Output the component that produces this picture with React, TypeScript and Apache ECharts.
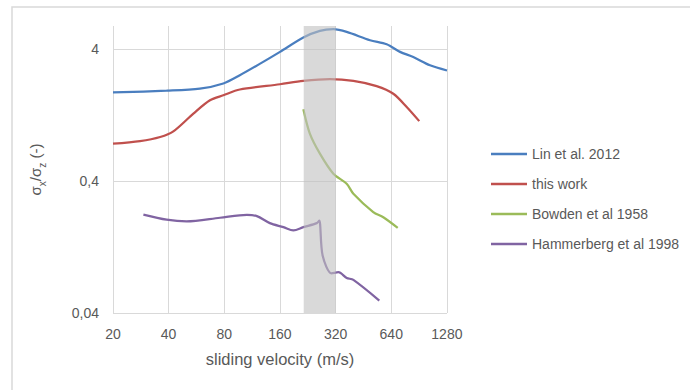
import React, { useEffect, useRef } from "react";
import * as echarts from "echarts";

// Lin et al. 2012
const linX = [20, 39, 59, 79, 97, 125, 160, 214, 263, 311, 367, 491, 604, 713, 841, 1036, 1280];
const linY = [1.88, 1.94, 2.01, 2.2, 2.54, 3.11, 3.82, 4.91, 5.51, 5.67, 5.41, 4.68, 4.36, 3.82, 3.49, 3.02, 2.76];
// this work
const workX = [20, 28, 36, 42.4, 54.4, 66.9, 79, 97, 160, 214, 298, 399, 533, 656, 775, 906];
const workY = [0.769, 0.805, 0.864, 0.953, 1.3, 1.64, 1.79, 1.98, 2.17, 2.3, 2.37, 2.3, 2.1, 1.84, 1.46, 1.14];
// Bowden et al 1958
const bowX = [214, 232, 263, 311, 367, 399, 511, 579, 693];
const bowY = [1.4, 0.916, 0.646, 0.455, 0.382, 0.321, 0.233, 0.213, 0.177];
// Hammerberg et al 1998
const hamX = [29.2, 39, 50, 75.8, 106, 120, 141, 167, 189, 214, 253, 261, 272, 304, 331, 367, 399, 551];
const hamY = [0.223, 0.204, 0.198, 0.211, 0.222, 0.217, 0.192, 0.179, 0.169, 0.179, 0.192, 0.201, 0.109, 0.08, 0.0815, 0.0738, 0.0713, 0.0497];

const seriesNames = ["Lin et al. 2012", "this work", "Bowden et al 1958", "Hammerberg et al 1998"];
const seriesColors = ["#4A7EBF", "#C0504D", "#9BBB59", "#8064A2"];
const band = [215, 320];

const xMin = 20;
const xMax = 1280;
const yMin = 0.04;
const yMax = 6;

const zip = (xs: number[], ys: number[]) => xs.map((x, i) => [x, ys[i]]);

export default function App() {
  const ref = useRef<HTMLDivElement>(null);
  useEffect(() => {
    if (!ref.current) return;
    const chart = echarts.init(ref.current, undefined, { renderer: "svg" });
    const font = "Liberation Sans";
    const txt = "#595959";
    const grid = "#d9d9d9";
    const datasets = [zip(linX, linY), zip(workX, workY), zip(bowX, bowY), zip(hamX, hamY)];
    chart.setOption({
      animation: false,
      backgroundColor: "#ffffff",
      textStyle: { fontFamily: font },
      graphic: [
        {
          type: "rect",
          shape: { x: 12, y: 7, width: 720, height: 420 },
          style: { fill: "none", stroke: "#d9d9d9", lineWidth: 1.5 },
          silent: true,
        },
      ],
      grid: { left: 113, right: 243, top: 26, bottom: 77 },
      legend: {
        data: seriesNames,
        orient: "vertical",
        left: 491,
        top: 146,
        padding: 0,
        icon: "rect",
        itemWidth: 36,
        itemHeight: 2.5,
        itemGap: 14,
        textStyle: { color: txt, fontSize: 14, fontFamily: font, lineHeight: 16 },
      },
      xAxis: {
        type: "log",
        logBase: 2,
        min: xMin,
        max: xMax,
        interval: 1,
        name: "sliding velocity (m/s)",
        nameLocation: "middle",
        nameGap: 37,
        nameTextStyle: { color: txt, fontSize: 16.5, fontFamily: font },
        axisLine: { show: false },
        axisTick: { show: false },
        axisLabel: {
          color: txt,
          fontSize: 14,
          margin: 14,
          formatter: (v: number) => String(xMin * Math.pow(2, Math.round(Math.log2(v / xMin)))),
        },
        splitLine: { show: true, lineStyle: { color: grid, width: 1 } },
      },
      yAxis: {
        type: "log",
        logBase: 10,
        min: yMin,
        max: yMax,
        interval: 1,
        name: "{s|σ}{sub|x}{s|/σ}{sub|z}{s| (-)}",
        nameLocation: "middle",
        nameGap: 70,
        nameTextStyle: {
          color: txt,
          rich: {
            s: { fontSize: 15, color: txt, fontFamily: font, lineHeight: 20, verticalAlign: "bottom" },
            sub: { fontSize: 10, color: txt, fontFamily: font, lineHeight: 20, verticalAlign: "bottom", padding: [0, 0, -4, 0] },
          },
        },
        axisLine: { show: false },
        axisTick: { show: false },
        axisLabel: {
          color: txt,
          fontSize: 14,
          margin: 14,
          showMaxLabel: false,
          formatter: (v: number) => String(Number(v.toPrecision(2))).replace(".", ","),
        },
        splitLine: { show: true, showMaxLine: false, lineStyle: { color: grid, width: 1 } },
      },
      series: [
        ...seriesNames.map((n, i) => ({
          name: n,
          type: "line",
          data: datasets[i],
          symbol: "none",
          smooth: 0.3,
          lineStyle: { color: seriesColors[i], width: 2.25 },
          itemStyle: { color: seriesColors[i] },
          z: 3,
        })),
        {
          name: "band",
          type: "line",
          data: [],
          z: 10,
          silent: true,
          markArea: {
            silent: true,
            z: 10,
            itemStyle: { color: "rgba(192,192,192,0.6)" },
            data: [[{ xAxis: band[0] }, { xAxis: band[1] }]],
          },
        },
      ],
    });
    return () => chart.dispose();
  }, []);
  return <div ref={ref} style={{ position: "fixed", left: 0, top: 0, width: 690, height: 390 }} />;
}
